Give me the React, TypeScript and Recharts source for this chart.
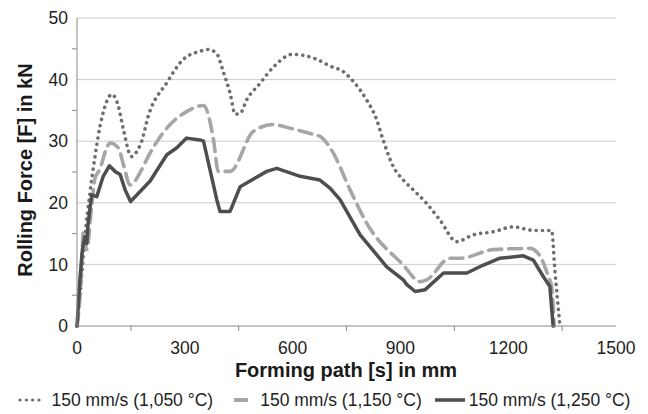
import React from "react";
import { LineChart, Line, XAxis, YAxis, CartesianGrid } from "recharts";

// forming path (mm) and rolling force (kN)
const path1050 = [0, 10, 22, 36, 50, 64, 78, 97, 115, 129, 152, 165, 180, 198, 250, 296, 343, 365, 388, 407, 426, 440, 454, 472, 508, 546, 600, 667, 704, 741, 769, 806, 834, 853, 880, 908, 927, 973, 1010, 1057, 1103, 1159, 1214, 1250, 1270, 1316, 1321, 1330, 1344];
const force1050 = [0, 6, 14.5, 21.6, 27.5, 32.4, 35.7, 37.6, 35.7, 31.9, 27.5, 28.2, 30, 34, 39.5, 43.3, 44.6, 44.9, 44.3, 41.3, 37.8, 34.4, 34.5, 36.7, 39.3, 42, 44.1, 43.3, 42.2, 41.3, 39.7, 36.7, 33.5, 30, 25.9, 23.7, 22.6, 19.9, 17.2, 13.7, 14.8, 15.3, 16.1, 15.7, 15.5, 15.5, 15.5, 9, 0];

const path1150 = [0, 10, 18, 27, 40, 50, 64, 80, 92, 115, 130, 148, 180, 198, 259, 305, 352, 380, 393, 426, 491, 546, 593, 658, 676, 713, 760, 806, 908, 955, 973, 1038, 1066, 1159, 1261, 1289, 1312, 1321, 1328];
const force1150 = [0, 6, 15.3, 12.4, 19, 24, 25.5, 28.5, 29.7, 28.9, 26, 22.9, 25.4, 27.5, 32.7, 34.8, 35.8, 30.2, 25.1, 25.1, 31.6, 32.7, 32.1, 31.1, 30.8, 28.1, 22.1, 16.7, 9.9, 7.2, 7.5, 11, 11, 12.4, 12.6, 11.3, 8, 6.4, 0];

const path1250 = [0, 8, 15, 22, 27, 31, 41, 55, 73, 90, 106, 120, 134, 149, 175, 203, 250, 277, 305, 342, 352, 389, 398, 426, 454, 472, 528, 556, 621, 676, 704, 732, 788, 862, 908, 918, 941, 969, 1020, 1085, 1131, 1177, 1242, 1270, 1298, 1316, 1325];
const force1250 = [0, 7.5, 12.4, 14.5, 13.4, 16.7, 21.3, 21, 24.3, 26, 25.1, 24.6, 22.1, 20.2, 21.8, 23.5, 27.8, 28.9, 30.5, 30.2, 30, 20.5, 18.6, 18.6, 22.6, 23.2, 25.1, 25.6, 24.3, 23.7, 22.4, 20.5, 14.8, 9.6, 7.5, 6.7, 5.6, 5.9, 8.6, 8.6, 9.9, 11, 11.4, 10.7, 8, 6.4, 0];

const xTicks = [0, 150, 300, 450, 600, 750, 900, 1050, 1200, 1350, 1500];
const yTicks = [0, 5, 10, 15, 20, 25, 30, 35, 40, 45, 50];
const gridValues = [10, 20, 30, 40, 50];

const font = "'Liberation Sans', Arial, sans-serif";

const toPoints = (xs: number[], ys: number[]) => xs.map((x, i) => ({ x, y: ys[i] }));

const series = [
  { name: "150 mm/s (1,050 °C)", data: toPoints(path1050, force1050), color: "#6e6e6e", width: 3.6, dash: "0.1 6.2", type: "monotone" },
  { name: "150 mm/s (1,150 °C)", data: toPoints(path1150, force1150), color: "#a6a6a6", width: 3.6, dash: "13 7", type: "monotone" },
  { name: "150 mm/s (1,250 °C)", data: toPoints(path1250, force1250), color: "#4e4e4e", width: 3.5, dash: undefined, type: "linear" },
];

const XTick = (props: any) => {
  const { x, y, payload } = props;
  const v = payload.value;
  if (v % 300 !== 0) return <line x1={x} x2={x} y1={y} y2={y + 5} stroke="#8a8a8a" />;
  return (
    <text x={x} y={y + 28} textAnchor="middle" fontSize={17.5} fill="#1e1e1e" fontFamily={font}>
      {v}
    </text>
  );
};

const YTick = (props: any) => {
  const { x, y, payload } = props;
  const v = payload.value;
  if (v % 10 !== 0) return <line x1={x - 5} x2={x} y1={y} y2={y} stroke="#8a8a8a" />;
  return (
    <text x={x - 9} y={y} dy="0.35em" textAnchor="end" fontSize={17.5} fill="#1e1e1e" fontFamily={font}>
      {v}
    </text>
  );
};

const LegendKey = ({ s, i }: { s: any; i: number }) => (
  <svg width={30} height={10}>
    {i === 0 && <line x1={2} x2={27} y1={5} y2={5} stroke={s.color} strokeWidth={3.2} strokeDasharray="0.1 6.2" strokeLinecap="round" />}
    {i === 1 && <line x1={8} x2={22} y1={5} y2={5} stroke={s.color} strokeWidth={4} />}
    {i === 2 && <line x1={0} x2={30} y1={5} y2={5} stroke={s.color} strokeWidth={3.5} />}
  </svg>
);

export default function App() {
  return (
    <div style={{ position: "absolute", left: 0, top: 0, width: 648, height: 414, background: "#fff", fontFamily: font }}>
      <LineChart width={648} height={414} margin={{ top: 18, right: 32, bottom: 58, left: 17 }}>
        <CartesianGrid horizontal vertical={false} horizontalValues={gridValues} stroke="#cccccc" />
        <XAxis
          dataKey="x"
          type="number"
          domain={[0, 1500]}
          ticks={xTicks}
          interval={0}
          tick={<XTick />}
          tickLine={false}
          tickSize={0}
          tickMargin={0}
          height={30}
          stroke="#8a8a8a"
          allowDuplicatedCategory={false}
        />
        <YAxis
          type="number"
          domain={[0, 50]}
          ticks={yTicks}
          interval={0}
          tick={<YTick />}
          tickLine={false}
          tickSize={0}
          tickMargin={0}
          width={60}
          stroke="#8a8a8a"
        />
        {series.map((s) => (
          <Line
            key={s.name}
            data={s.data}
            dataKey="y"
            name={s.name}
            type={s.type as any}
            stroke={s.color}
            strokeWidth={s.width}
            strokeDasharray={s.dash}
            strokeLinecap="round"
            strokeLinejoin="round"
            dot={false}
            activeDot={false}
            isAnimationActive={false}
          />
        ))}
      </LineChart>
      <div
        style={{
          position: "absolute",
          left: 25,
          top: 170,
          transform: "translate(-50%, -50%) rotate(-90deg)",
          whiteSpace: "nowrap",
          fontSize: 20,
          fontWeight: "bold",
          color: "#1a1a1a",
        }}
      >
        Rolling Force [F] in kN
      </div>
      <div
        style={{
          position: "absolute",
          left: 346,
          top: 370,
          transform: "translate(-50%, -50%)",
          whiteSpace: "nowrap",
          fontSize: 20,
          fontWeight: "bold",
          color: "#1a1a1a",
        }}
      >
        Forming path [s] in mm
      </div>
      <div
        style={{
          position: "absolute",
          left: 0,
          top: 389,
          width: 648,
          display: "flex",
          justifyContent: "center",
          gap: 13,
          fontSize: 17.5,
          color: "#1e1e1e",
          lineHeight: "22px",
        }}
      >
        {series.map((s, i) => (
          <div key={s.name} style={{ display: "flex", alignItems: "center", whiteSpace: "nowrap" }}>
            <LegendKey s={s} i={i} />
            <span style={{ marginLeft: 4 }}>{s.name}</span>
          </div>
        ))}
      </div>
    </div>
  );
}
